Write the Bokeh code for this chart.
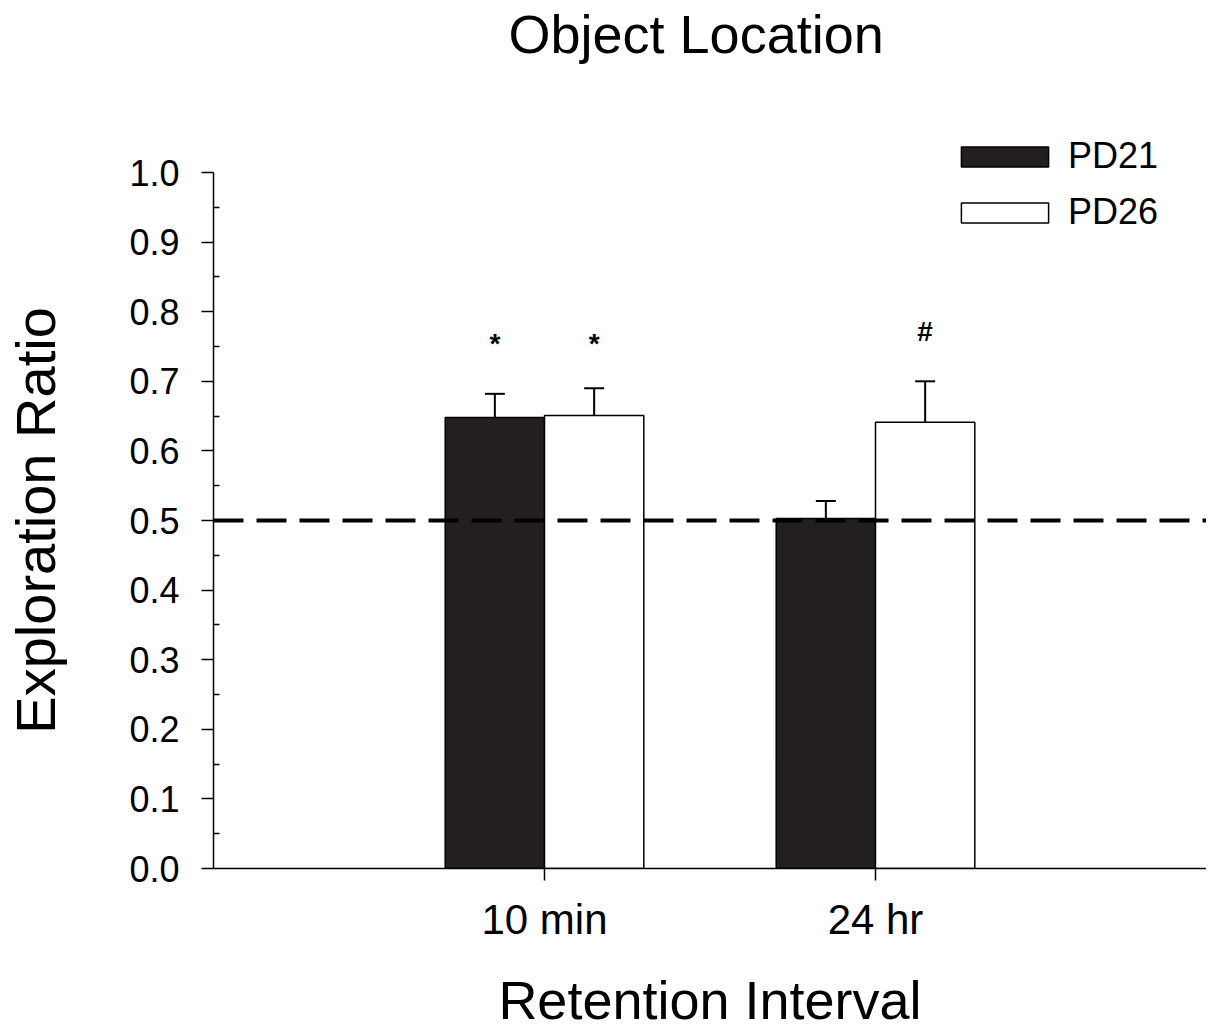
from bokeh.plotting import figure
from bokeh.models import (ColumnDataSource, Whisker, TeeHead, Span, Legend, LegendItem,
                          FixedTicker, Range1d, NumeralTickFormatter)
from bokeh.core.properties import value
from bokeh.embed import file_html
from bokeh.resources import INLINE

# ---- data ----
categories = ["10 min", "24 hr"]
series = ["PD21", "PD26"]
pd21_mean = [0.648, 0.503]
pd21_sem = [0.034, 0.025]
pd26_mean = [0.651, 0.641]
pd26_sem = [0.039, 0.059]
sig_cat = ["10 min", "10 min", "24 hr"]
sig_series = ["PD21", "PD26", "PD26"]
sig_text = ["*", "*", "#"]
sig_y = [0.755, 0.755, 0.772]
chance_level = 0.5
y_ticks = [0.0, 0.1, 0.2, 0.3, 0.4, 0.5, 0.6, 0.7, 0.8, 0.9, 1.0]

FONT = "Liberation Sans"
BLACK = "#231f20"
bar_width = 0.3
cat_pos = {c: i + 1 for i, c in enumerate(categories)}
offset = {"PD21": -0.15, "PD26": 0.15}

def make_src(means, sems, name):
    xs = [cat_pos[c] + offset[name] for c in categories]
    return ColumnDataSource(dict(x=xs, top=means,
                                 upper=[m + s for m, s in zip(means, sems)]))

src21 = make_src(pd21_mean, pd21_sem, "PD21")
src26 = make_src(pd26_mean, pd26_sem, "PD26")

# frame: 805 px tall, 696 px per unit -> top of range 805/696
p = figure(width=1206, height=1030, output_backend="svg", toolbar_location=None,
           x_range=Range1d(0, 3), y_range=Range1d(0, 805 / 696),
           frame_width=993, frame_height=805,
           min_border_left=213, min_border_right=0, min_border_top=63,
           min_border_bottom=162)
p.outline_line_color = None
p.xgrid.visible = False
p.ygrid.visible = False
p.background_fill_color = "white"

r21 = p.vbar(x="x", top="top", width=bar_width, bottom=0, source=src21,
             fill_color=BLACK, line_color="black", line_width=1.5)
r26 = p.vbar(x="x", top="top", width=bar_width, bottom=0, source=src26,
             fill_color="white", line_color="black", line_width=1.5)

for src in (src21, src26):
    w = Whisker(source=src, base="x", lower="top", upper="upper", dimension="height",
                lower_head=None,
                upper_head=TeeHead(size=20, line_width=2, line_color="black"),
                line_width=2, line_color="black", level="overlay")
    p.add_layout(w)

p.add_layout(Span(location=chance_level, dimension="width", line_color="black",
                  line_width=4, line_dash="30 13"))

sig_src = ColumnDataSource(dict(
    x=[cat_pos[c] + offset[s] for c, s in zip(sig_cat, sig_series)],
    y=sig_y, text=sig_text))
p.text(x="x", y="y", text="text", source=sig_src, text_align="center",
       text_baseline="middle", text_font=value(FONT), text_font_size="28px",
       text_font_style="bold", text_color="black")

# axes
p.xaxis.ticker = FixedTicker(ticks=[cat_pos[c] for c in categories])
p.xaxis.major_label_overrides = {cat_pos[c]: c for c in categories}
p.xaxis.axis_label = "Retention Interval"
p.xaxis.major_tick_in = 0
p.xaxis.major_tick_out = 12
p.xaxis.minor_tick_line_color = None
p.xaxis.major_label_text_font_size = "42px"
p.xaxis.major_label_standoff = 15

p.yaxis.bounds = (0, 1.0)
p.yaxis.ticker = FixedTicker(ticks=y_ticks,
                             minor_ticks=[round(t + 0.05, 2) for t in y_ticks[:-1]])
p.yaxis.formatter = NumeralTickFormatter(format="0.0")
# trailing no-break spaces keep the label centred on the 0-1 part of the axis
p.yaxis.axis_label = "Exploration Ratio" + "\u00a0" * 7
p.yaxis.major_tick_in = 0
p.yaxis.major_tick_out = 12
p.yaxis.minor_tick_in = 6
p.yaxis.minor_tick_out = 0
p.yaxis.major_label_text_font_size = "36px"
p.yaxis.major_label_standoff = 22

for ax in (p.xaxis, p.yaxis):
    ax.axis_line_width = 1.5
    ax.axis_line_color = "black"
    ax.major_tick_line_width = 1.5
    ax.minor_tick_line_width = 1.5
    ax.major_label_text_font = FONT
    ax.major_label_text_color = "black"
    ax.axis_label_text_font = FONT
    ax.axis_label_text_font_style = "normal"
    ax.axis_label_text_font_size = "54px"
    ax.axis_label_text_color = "black"
p.yaxis.axis_label_text_font_size = "56px"
p.xaxis.axis_label_standoff = 24
p.yaxis.axis_label_standoff = 59

p.title.text = "Object Location"
p.title.text_font = FONT
p.title.text_font_size = "54px"
p.title.text_font_style = "normal"
p.title.text_color = "black"
p.title.align = "left"
p.title.offset = 295
p.title.standoff = 0

legend = Legend(items=[LegendItem(label="PD21", renderers=[r21]),
                       LegendItem(label="PD26", renderers=[r26])],
                location=(737, 635), glyph_width=109, glyph_height=25,
                label_standoff=9, label_text_font=FONT, label_text_font_size="36px",
                label_text_color="black", spacing=14, padding=0, margin=0,
                border_line_color=None, background_fill_alpha=0)
p.add_layout(legend)

open("out.html", "w").write(file_html(p, INLINE))
